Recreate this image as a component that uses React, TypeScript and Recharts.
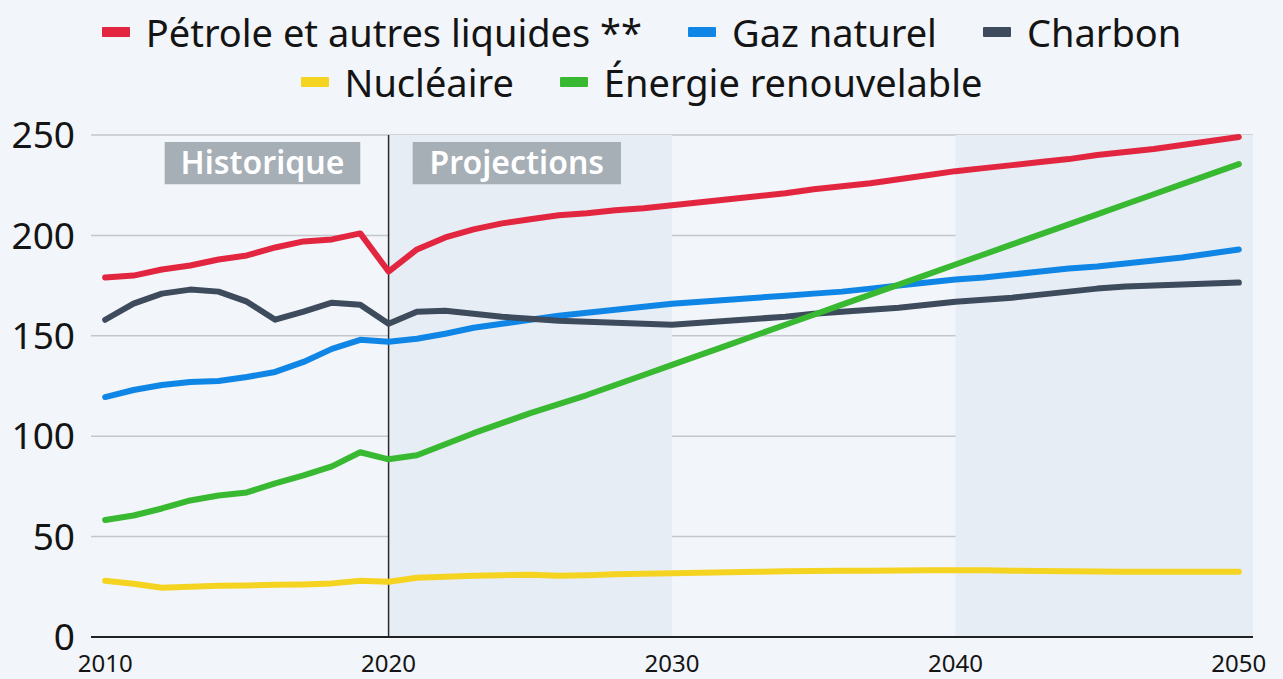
import React from "react";
import {
  LineChart,
  Line,
  XAxis,
  YAxis,
  CartesianGrid,
  ReferenceArea,
  ReferenceLine,
} from "recharts";

const years = [
  2010, 2011, 2012, 2013, 2014, 2015, 2016, 2017, 2018, 2019,
  2020, 2021, 2022, 2023, 2024, 2025, 2026, 2027, 2028, 2029,
  2030, 2031, 2032, 2033, 2034, 2035, 2036, 2037, 2038, 2039,
  2040, 2041, 2042, 2043, 2044, 2045, 2046, 2047, 2048, 2049, 2050,
];

const petrole = [
  179, 180, 183, 185, 188, 190, 194, 197, 198, 201,
  182, 193, 199, 203, 206, 208, 210, 211, 212.5, 213.5,
  215, 216.5, 218, 219.5, 221, 223, 224.5, 226, 228, 230,
  232, 233.5, 235, 236.5, 238, 240, 241.5, 243, 245, 247, 249,
];

const gaz = [
  119.5, 123, 125.5, 127, 127.5, 129.5, 132, 137, 143.5, 148,
  147, 148.5, 151, 154, 156, 158, 160, 161.5, 163, 164.5,
  166, 167, 168, 169, 170, 171, 172, 173.5, 175, 176.5,
  178, 179, 180.5, 182, 183.5, 184.5, 186, 187.5, 189, 191, 193,
];

const charbon = [
  158, 166, 171, 173, 172, 167, 158, 162, 166.5, 165.5,
  156, 162, 162.5, 161, 159.5, 158.5, 157.5, 157, 156.5, 156,
  155.5, 156.5, 157.5, 158.5, 159.5, 161, 162, 163, 164, 165.5,
  167, 168, 169, 170.5, 172, 173.5, 174.5, 175, 175.5, 176, 176.5,
];

const nucleaire = [
  28, 26.5, 24.5, 25, 25.5, 25.7, 26, 26.2, 26.7, 28,
  27.5, 29.5, 30, 30.5, 30.8, 31, 30.5, 30.8, 31.2, 31.5,
  31.8, 32, 32.3, 32.5, 32.7, 32.9, 33, 33, 33.1, 33.2,
  33.3, 33.2, 33, 32.9, 32.8, 32.6, 32.5, 32.5, 32.5, 32.5, 32.5,
];

const renouvelable = [
  58.3, 60.5, 64, 68, 70.5, 72, 76.5, 80.5, 85, 92,
  88.5, 90.5, 96, 101.5, 106.5, 111.5, 116, 120.5, 125.5, 130.5,
  135.5, 140.5, 145.5, 150.5, 155.5, 160.5, 165.5, 170.5, 175.5, 180.5,
  185.5, 190.5, 195.5, 200.5, 205.5, 210.5, 215.5, 220.5, 225.5, 230.5, 235.5,
];

const xTicks = [2010, 2020, 2030, 2040, 2050];
const yTicks = [0, 50, 100, 150, 200, 250];

const seriesInfo = [
  { key: "petrole", name: "Pétrole et autres liquides **", color: "#e3263f", values: petrole },
  { key: "gaz", name: "Gaz naturel", color: "#0f86e6", values: gaz },
  { key: "charbon", name: "Charbon", color: "#3d4b5c", values: charbon },
  { key: "nucleaire", name: "Nucléaire", color: "#f5d321", values: nucleaire },
  { key: "renouvelable", name: "Énergie renouvelable", color: "#38b931", values: renouvelable },
];

const legendRows = [
  ["petrole", "gaz", "charbon"],
  ["nucleaire", "renouvelable"],
];

const periodLabels = [
  { text: "Historique", x1: 2012.1, x2: 2019.0 },
  { text: "Projections", x1: 2020.85, x2: 2028.2 },
];

const shadedBands = [
  { x1: 2020, x2: 2030 },
  { x1: 2040, x2: 2050.5 },
];

const data = years.map((y, i) => {
  const row: Record<string, number> = { year: y };
  seriesInfo.forEach((s) => {
    row[s.key] = s.values[i];
  });
  return row;
});

const FONT = "'Noto Sans', 'Open Sans', sans-serif";

export default function App() {
  return (
    <div
      style={{
        position: "absolute",
        left: 0,
        top: 0,
        width: 1283,
        height: 679,
        background: "#f2f5f9",
        fontFamily: FONT,
        overflow: "hidden",
      }}
    >
      <div style={{ position: "absolute", left: 0, top: 7, width: 1283 }}>
        {legendRows.map((row, ri) => (
          <div
            key={ri}
            style={{
              display: "flex",
              justifyContent: "center",
              alignItems: "center",
              height: 50,
              fontSize: 38,
              color: "#141414",
              marginLeft: ri === 0 ? 0 : 0,
              whiteSpace: "nowrap",
            }}
          >
            {row.map((k) => {
              const s = seriesInfo.find((x) => x.key === k)!;
              return (
                <div
                  key={k}
                  style={{ display: "flex", alignItems: "center", margin: "0 23px" }}
                >
                  <span
                    style={{
                      display: "inline-block",
                      width: 28,
                      height: 10,
                      background: s.color,
                      marginRight: 16,
                      borderRadius: 1,
                    }}
                  />
                  <span>{s.name}</span>
                </div>
              );
            })}
          </div>
        ))}
      </div>
      <LineChart
        width={1283}
        height={679}
        data={data}
        margin={{ top: 135, right: 30, bottom: 0, left: 0 }}
        style={{ position: "absolute", left: 0, top: 0 }}
      >
        {shadedBands.map((b, i) => (
          <ReferenceArea
            key={"band" + i}
            x1={b.x1}
            x2={b.x2}
            y1={0}
            y2={250}
            fill="#e7edf5"
            fillOpacity={1}
            stroke="none"
            ifOverflow="visible"
          />
        ))}
        <CartesianGrid vertical={false} stroke="#c3c7cc" strokeWidth={1.5} />
        <XAxis
          dataKey="year"
          type="number"
          domain={[2009.5, 2050.5]}
          ticks={xTicks}
          tickLine={false}
          axisLine={{ stroke: "#222", strokeWidth: 2 }}
          height={42}
          tickMargin={12}
          tick={{ fontSize: 24, fill: "#141414", fontFamily: FONT }}
          interval={0}
        />
        <YAxis
          type="number"
          domain={[0, 250]}
          ticks={yTicks}
          width={91}
          tickLine={false}
          axisLine={false}
          tickMargin={10}
          tick={{ fontSize: 37, fill: "#141414", fontFamily: FONT }}
          interval={0}
        />
        <ReferenceLine x={2020} stroke="#2b2b2b" strokeWidth={1.5} />
        {periodLabels.map((p, i) => (
          <ReferenceArea
            key={"lab" + i}
            x1={p.x1}
            x2={p.x2}
            y1={225.5}
            y2={246.5}
            fill="#a6aeb6"
            fillOpacity={1}
            stroke="none"
            label={{
              value: p.text,
              position: "center",
              fill: "#ffffff",
              fontSize: 32,
              fontWeight: 600,
              fontFamily: FONT,
            }}
          />
        ))}
        {seriesInfo.map((s) => (
          <Line
            key={s.key}
            type="linear"
            dataKey={s.key}
            name={s.name}
            stroke={s.color}
            strokeWidth={6}
            dot={false}
            activeDot={false}
            strokeLinecap="round"
            strokeLinejoin="round"
            isAnimationActive={false}
          />
        ))}
      </LineChart>
    </div>
  );
}
